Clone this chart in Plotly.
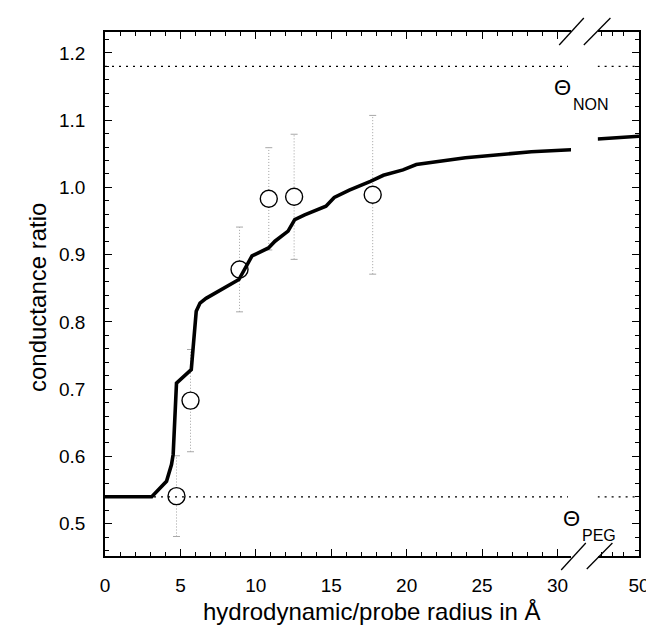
import plotly.graph_objects as go

# ---------------- data ----------------
curve_x = [0, 3.1, 4.08, 4.41, 4.52, 4.74, 5.72, 6.05, 6.3, 6.7, 8.88, 9.53, 9.75,
           10.84, 11.27, 12.14, 12.58, 13.24, 14.65, 15.2, 16.2, 17.6, 18.46, 19.76,
           20.64, 23.9, 28.27, 31.0]
curve_y = [0.54, 0.54, 0.563, 0.588, 0.603, 0.709, 0.729, 0.816, 0.828, 0.835, 0.863,
           0.888, 0.898, 0.910, 0.920, 0.935, 0.952, 0.959, 0.972, 0.985, 0.996, 1.009,
           1.018, 1.026, 1.034, 1.044, 1.053, 1.056]
curve2_x = [47.25, 50]
curve2_y = [1.072, 1.076]

pts_x = [4.74, 5.67, 8.92, 10.86, 12.54, 17.75]
pts_y = [0.541, 0.683, 0.878, 0.983, 0.986, 0.989]
pts_err = [0.06, 0.076, 0.063, 0.076, 0.093, 0.118]

theta_non = 1.18
theta_peg = 0.54

x_ticks_left = [0, 5, 10, 15, 20, 25, 30]
x_ticks_right = [50]
y_ticks = [0.5, 0.6, 0.7, 0.8, 0.9, 1.0, 1.1, 1.2]

X1_RANGE = [0, 30.9]
X2_RANGE = [47.25, 50]
Y_RANGE = [0.452, 1.231]

FONT = "Liberation Sans, Arial, Helvetica, sans-serif"
TICK_SIZE = 19

fig = go.Figure()

# error bars (dotted, light grey)
ex, ey, cx, cy = [], [], [], []
for x, y, e in zip(pts_x, pts_y, pts_err):
    ex += [x, x, None]
    ey += [y - e, y + e, None]
    cx += [x, x]
    cy += [y - e, y + e]
fig.add_trace(go.Scatter(x=ex, y=ey, mode="lines",
                         line=dict(color="#a0a0a0", width=1, dash="1px,2px"),
                         xaxis="x", yaxis="y", hoverinfo="skip"))
fig.add_trace(go.Scatter(x=cx, y=cy, mode="markers",
                         marker=dict(symbol="line-ew", size=5, color="#a8a8a8",
                                     line=dict(color="#a8a8a8", width=1)),
                         xaxis="x", yaxis="y", hoverinfo="skip"))

# measured points
fig.add_trace(go.Scatter(x=pts_x, y=pts_y, mode="markers",
                         marker=dict(symbol="circle", size=17, color="white",
                                     line=dict(color="black", width=1.4)),
                         xaxis="x", yaxis="y"))

# model curve
fig.add_trace(go.Scatter(x=curve_x, y=curve_y, mode="lines",
                         line=dict(color="black", width=3.6),
                         xaxis="x", yaxis="y"))
fig.add_trace(go.Scatter(x=curve2_x, y=curve2_y, mode="lines",
                         line=dict(color="black", width=3.6),
                         xaxis="x2", yaxis="y2", cliponaxis=False))

# theta levels (dotted)
for lvl in (theta_non, theta_peg):
    fig.add_trace(go.Scatter(x=[X1_RANGE[0], 30.7], y=[lvl, lvl], mode="lines",
                             line=dict(color="black", width=1.3, dash="2px,5px"),
                             xaxis="x", yaxis="y"))
    fig.add_trace(go.Scatter(x=X2_RANGE, y=[lvl, lvl], mode="lines",
                             line=dict(color="black", width=1.3, dash="2px,5px"),
                             xaxis="x2", yaxis="y2"))

axis_common = dict(showline=True, linecolor="black", linewidth=1.5, ticks="inside",
                   ticklen=7, tickwidth=1.2, tickcolor="black", showgrid=False,
                   zeroline=False, tickfont=dict(family=FONT, size=TICK_SIZE, color="black"))

# plot area: 97..639 px wide (542), left segment ends ~570, right starts ~597
d1_end = (570 - 97) / 542
d2_start = (597 - 97) / 542

fig.update_layout(
    width=654, height=631,
    margin=dict(l=97, r=15, t=24, b=83),
    plot_bgcolor="white", paper_bgcolor="white",
    showlegend=False,
    font=dict(family=FONT, size=TICK_SIZE, color="black"),
    xaxis=dict(domain=[0, d1_end], range=X1_RANGE, tickvals=x_ticks_left,
               mirror="ticks", anchor="y", ticklabelstandoff=11,
               minor=dict(dtick=1, tick0=0, ticks="inside", ticklen=4,
                          tickcolor="black", tickwidth=1, showgrid=False),
               **axis_common),
    xaxis2=dict(domain=[d2_start, 1], range=X2_RANGE, tickvals=x_ticks_right,
                mirror="ticks", anchor="y2", ticklabelstandoff=11,
                minor=dict(tickmode="array", tickvals=[47.5, 48.25, 49.0],
                           ticks="inside", ticklen=4, tickcolor="black",
                           tickwidth=1, showgrid=False),
                **axis_common),
    yaxis=dict(domain=[0, 1], range=Y_RANGE, tickvals=y_ticks,
               ticktext=[f"{v:.1f}" for v in y_ticks], anchor="x",
               ticklabelstandoff=14,
               minor=dict(dtick=0.02, tick0=0.5, ticks="inside", ticklen=4,
                          tickcolor="black", tickwidth=1, showgrid=False),
               **axis_common),
    yaxis2=dict(domain=[0, 1], range=Y_RANGE, tickvals=y_ticks, anchor="x2",
                side="right", showticklabels=False,
                minor=dict(dtick=0.02, tick0=0.5, ticks="inside", ticklen=4,
                           tickcolor="black", tickwidth=1, showgrid=False),
                **axis_common),
)

# axis break marks
def px2paper(px, py):
    return (px - 97) / 542, (548 - py) / 524

for (x0, y0, x1, y1) in [(558, 37, 583, 10), (583, 37, 610, 10),
                         (560, 562, 585, 535), (586, 561, 612, 535)]:
    a0, b0 = px2paper(x0, y0)
    a1, b1 = px2paper(x1, y1)
    fig.add_shape(type="line", xref="paper", yref="paper", x0=a0, y0=b0, x1=a1, y1=b1,
                  line=dict(color="black", width=1.3))

# labels
def ann(text, px, py, size, **kw):
    a, b = px2paper(px, py)
    fig.add_annotation(text=text, x=a, y=b, xref="paper", yref="paper",
                       showarrow=False, xanchor="center", yanchor="middle",
                       font=dict(family=FONT, size=size, color="black"), **kw)

ann("Θ", 561, 80, 22)
ann("NON", 590, 97, 16)
ann("Θ", 570, 510, 22)
ann("PEG", 598, 527, 16)

ann("hydrodynamic/probe radius in Å", 368, 603, 24)
ann("conductance ratio", 28, 290, 24, textangle=-90)

fig.write_html("out.html")
